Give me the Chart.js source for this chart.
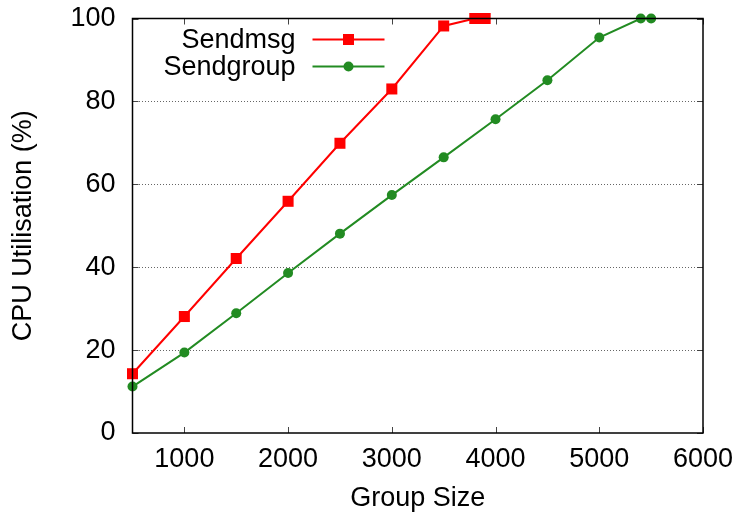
<!DOCTYPE html>
<html>
<head>
<meta charset="utf-8">
<script src="https://cdn.jsdelivr.net/npm/chart.js@4"></script>
<style>
  html, body { margin: 0; padding: 0; background: #fff; }
  #wrap { width: 740px; height: 516px; }
</style>
</head>
<body>
<div id="wrap"><canvas id="cpuChart"></canvas></div>
<script>
// data
const sendmsgX = [500, 1000, 1500, 2000, 2500, 3000, 3500, 3800, 3900];
const sendmsgY = [14.3, 28.1, 42.1, 55.9, 69.9, 83.0, 98.2, 100, 100];
const sendgroupX = [500, 1000, 1500, 2000, 2500, 3000, 3500, 4000, 4500, 5000, 5400, 5500];
const sendgroupY = [11.2, 19.4, 28.9, 38.6, 48.1, 57.4, 66.5, 75.7, 85.1, 95.4, 100, 100];
const xTicks = [1000, 2000, 3000, 4000, 5000, 6000];
const yTicks = [0, 20, 40, 60, 80, 100];

const FONT = 'Liberation Sans, Arial, Helvetica, sans-serif';
const FSIZE = 27;

const toPoints = (xs, ys) => xs.map((x, i) => ({ x: x, y: ys[i] }));

// gnuplot style frame: box + short inward ticks on all four sides
const framePlugin = {
  id: 'frame',
  afterDatasetsDraw(chart) {
    const { ctx, chartArea: a, scales } = chart;
    ctx.save();
    ctx.strokeStyle = '#444';
    ctx.lineWidth = 1;
    ctx.beginPath();
    xTicks.forEach(v => {
      const px = Math.round(scales.x.getPixelForValue(v)) + 0.5;
      ctx.moveTo(px, a.bottom); ctx.lineTo(px, a.bottom - 6);
      ctx.moveTo(px, a.top); ctx.lineTo(px, a.top + 6);
    });
    yTicks.forEach(v => {
      const py = Math.round(scales.y.getPixelForValue(v)) + 0.5;
      ctx.moveTo(a.left, py); ctx.lineTo(a.left + 6, py);
      ctx.moveTo(a.right, py); ctx.lineTo(a.right - 6, py);
    });
    ctx.stroke();
    ctx.strokeStyle = '#000';
    ctx.lineWidth = 1.5;
    ctx.strokeRect(a.left, a.top, a.right - a.left, a.bottom - a.top);
    ctx.restore();
  }
};

// legend inside plot: text right-aligned, then line sample with marker
const keyPlugin = {
  id: 'key',
  afterDraw(chart) {
    const { ctx, chartArea: a } = chart;
    const textRight = a.left + 163;
    const lineL = a.left + 180, lineR = a.left + 252;
    const rows = [a.top + 21, a.top + 48];
    ctx.save();
    ctx.font = FSIZE + 'px ' + FONT;
    ctx.textAlign = 'right';
    ctx.textBaseline = 'middle';
    chart.data.datasets.forEach((ds, i) => {
      const y = rows[i];
      ctx.fillStyle = '#000';
      ctx.fillText(ds.label, textRight, y + 1);
      ctx.strokeStyle = ds.borderColor;
      ctx.lineWidth = 2;
      ctx.beginPath();
      ctx.moveTo(lineL, y); ctx.lineTo(lineR, y);
      ctx.stroke();
      const mx = (lineL + lineR) / 2;
      ctx.fillStyle = ds.pointBackgroundColor;
      if (ds.pointStyle === 'rect') {
        ctx.fillRect(mx - 5.5, y - 5.5, 11, 11);
      } else {
        ctx.beginPath();
        ctx.arc(mx, y, 5, 0, Math.PI * 2);
        ctx.fill();
      }
    });
    ctx.restore();
  }
};

new Chart(document.getElementById('cpuChart'), {
  type: 'line',
  data: {
    datasets: [
      {
        label: 'Sendmsg',
        data: toPoints(sendmsgX, sendmsgY),
        borderColor: '#ff0000',
        backgroundColor: '#ff0000',
        pointBackgroundColor: '#ff0000',
        pointBorderWidth: 0,
        pointStyle: 'rect',
        pointRadius: 7.8,
        borderWidth: 2,
        tension: 0,
        clip: false
      },
      {
        label: 'Sendgroup',
        data: toPoints(sendgroupX, sendgroupY),
        borderColor: '#228b22',
        backgroundColor: '#228b22',
        pointBackgroundColor: '#228b22',
        pointBorderWidth: 0,
        pointStyle: 'circle',
        pointRadius: 5,
        borderWidth: 2,
        tension: 0,
        clip: false
      }
    ]
  },
  options: {
    responsive: true,
    maintainAspectRatio: false,
    animation: false,
    layout: { padding: { top: 18.5, right: 37, left: 0, bottom: 0 } },
    scales: {
      x: {
        type: 'linear',
        min: 500,
        max: 6000,
        afterBuildTicks: scale => { scale.ticks = xTicks.map(v => ({ value: v })); },
        afterFit: scale => {
          scale.height = 83;
          scale.paddingLeft = 0;
          scale.paddingRight = 0;
        },
        border: { display: false },
        grid: { display: false, drawTicks: false },
        ticks: {
          color: '#000',
          font: { family: FONT, size: FSIZE },
          padding: 10,
          maxRotation: 0,
          callback: v => String(v)
        },
        title: {
          display: true,
          text: 'Group Size',
          color: '#000',
          font: { family: FONT, size: FSIZE },
          padding: { top: 0, bottom: 1 }
        }
      },
      y: {
        min: 0,
        max: 100,
        afterBuildTicks: scale => { scale.ticks = yTicks.map(v => ({ value: v })); },
        afterFit: scale => {
          scale.width = 132.5;
          scale.paddingTop = 0;
          scale.paddingBottom = 0;
        },
        border: { display: false, dash: [1, 2] },
        grid: {
          drawTicks: false,
          color: ctx => (ctx.tick.value === 0 || ctx.tick.value === 100) ? 'rgba(0,0,0,0)' : '#666',
          lineWidth: 1
        },
        ticks: {
          color: '#000',
          font: { family: FONT, size: FSIZE },
          padding: 17
        },
        title: {
          display: true,
          text: 'CPU Utilisation (%)',
          color: '#000',
          font: { family: FONT, size: FSIZE },
          padding: { top: 7, bottom: 0 }
        }
      }
    },
    plugins: {
      legend: { display: false },
      tooltip: { enabled: false }
    }
  },
  plugins: [framePlugin, keyPlugin]
});
</script>
</body>
</html>
